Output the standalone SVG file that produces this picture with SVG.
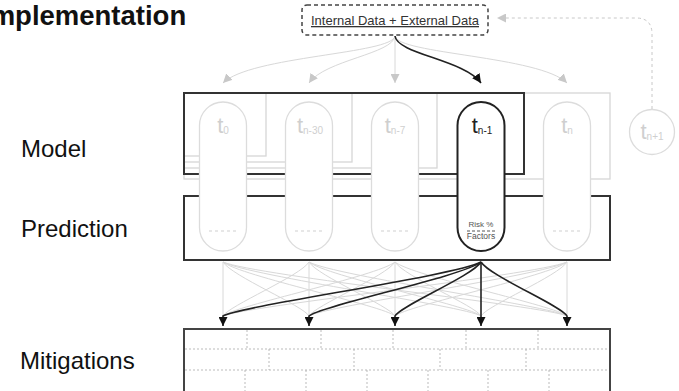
<svg xmlns="http://www.w3.org/2000/svg" width="679" height="391" viewBox="0 0 679 391">
<style>
.lbl{font-family:"Liberation Sans",Arial,sans-serif;font-size:24px;fill:#111}
.title{font-family:"Liberation Sans",Arial,sans-serif;font-size:27.5px;font-weight:bold;fill:#111}
.gbox{fill:none;stroke:#d6d6d6;stroke-width:1.3}
.bbox{fill:none;stroke:#333;stroke-width:2}
.pill{fill:#fff;stroke:#dcdcdc;stroke-width:1.3}
.pillA{fill:#fff;stroke:#222;stroke-width:2}
.tg{font-family:"Liberation Sans",Arial,sans-serif;font-size:22px;fill:#cfcfcf}
.tb{font-family:"Liberation Sans",Arial,sans-serif;font-size:22px;fill:#222}
.sub{font-size:10px}
.sep{stroke:#cfcfcf;stroke-width:1;stroke-dasharray:3 3}
.gc{fill:none;stroke:#d8d8d8;stroke-width:1}
.bc{fill:none;stroke:#222;stroke-width:1.6}
.brick{stroke:#aaa;stroke-width:0.8;stroke-dasharray:2 2;fill:none}
</style>
<defs>
<marker id="ahG" viewBox="0 0 10 10" refX="10" refY="5" markerWidth="9" markerHeight="9" markerUnits="userSpaceOnUse" orient="auto"><path d="M0,0 L10,5 L0,10 z" fill="#c8c8c8"/></marker>
<marker id="ahB" viewBox="0 0 10 10" refX="10" refY="5" markerWidth="9" markerHeight="9" markerUnits="userSpaceOnUse" orient="auto"><path d="M0,0 L10,5 L0,10 z" fill="#111"/></marker>
</defs>

<text class="title" x="-17" y="25">Implementation</text>
<text class="lbl" x="21" y="157">Model</text>
<text class="lbl" x="21" y="237">Prediction</text>
<text class="lbl" x="20" y="369">Mitigations</text>

<g id="source">
<rect x="302" y="5" width="186" height="30" rx="5" fill="#fff" stroke="#444" stroke-width="1.5" stroke-dasharray="4 3"/>
<text x="395" y="25" text-anchor="middle" font-family="'Liberation Sans',Arial,sans-serif" font-size="13" fill="#333" text-decoration="underline">Internal Data + External Data</text>
</g>

<g id="model-boxes">
<rect class="gbox" x="184" y="93" width="82" height="63"/>
<rect class="gbox" x="184" y="93" width="168" height="69"/>
<rect class="gbox" x="184" y="93" width="253" height="75"/>
<rect class="gbox" x="184" y="93" width="426" height="86"/>
<rect class="bbox" x="184" y="93" width="340" height="81"/>
</g>

<g id="prediction-box">
<rect class="bbox" x="184" y="196" width="426" height="64"/>
</g>

<g id="pill-t0">
<rect class="pill" x="199.5" y="102" width="47" height="149" rx="23.5"/>
<text class="tg" x="223" y="133" text-anchor="middle">t<tspan class="sub" dy="1">0</tspan></text>
<line class="sep" x1="209" y1="231" x2="237" y2="231"/>
</g>
<g id="pill-tn30">
<rect class="pill" x="285.5" y="102" width="47" height="149" rx="23.5"/>
<text class="tg" x="310" y="133" text-anchor="middle">t<tspan class="sub" dy="1">n-30</tspan></text>
<line class="sep" x1="295" y1="231" x2="323" y2="231"/>
</g>
<g id="pill-tn7">
<rect class="pill" x="371.5" y="102" width="47" height="149" rx="23.5"/>
<text class="tg" x="395" y="133" text-anchor="middle">t<tspan class="sub" dy="1">n-7</tspan></text>
<line class="sep" x1="381" y1="231" x2="409" y2="231"/>
</g>
<g id="pill-tn1">
<rect class="pillA" x="457.5" y="102" width="47" height="149" rx="23.5"/>
<text class="tb" x="482" y="133" text-anchor="middle">t<tspan class="sub" dy="1">n-1</tspan></text>
<text x="481" y="227" text-anchor="middle" font-family="'Liberation Sans',Arial,sans-serif" font-size="8" fill="#555">Risk %</text>
<line x1="467" y1="231" x2="496" y2="231" stroke="#555" stroke-width="1" stroke-dasharray="3 2"/>
<text x="481" y="239" text-anchor="middle" font-family="'Liberation Sans',Arial,sans-serif" font-size="8.5" fill="#555">Factors</text>
</g>
<g id="pill-tn">
<rect class="pill" x="543.5" y="102" width="47" height="149" rx="23.5"/>
<text class="tg" x="567" y="133" text-anchor="middle">t<tspan class="sub" dy="1">n</tspan></text>
<line class="sep" x1="553" y1="231" x2="581" y2="231"/>
</g>
<g id="node-tn1">
<circle cx="652" cy="132" r="22.5" fill="#fff" stroke="#dcdcdc" stroke-width="1.3"/>
<text class="tg" x="652" y="139" text-anchor="middle">t<tspan class="sub" dy="1">n+1</tspan></text>
</g>

<g id="mitigations">
<rect x="184" y="329" width="426" height="80" fill="none" stroke="#444" stroke-width="2"/>
<line class="brick" x1="185" y1="349" x2="609" y2="349"/>
<line class="brick" x1="185" y1="370" x2="609" y2="370"/>
<line class="brick" x1="247" y1="330" x2="247" y2="349"/>
<line class="brick" x1="321" y1="330" x2="321" y2="349"/>
<line class="brick" x1="393" y1="330" x2="393" y2="349"/>
<line class="brick" x1="466" y1="330" x2="466" y2="349"/>
<line class="brick" x1="538" y1="330" x2="538" y2="349"/>
<line class="brick" x1="269" y1="349" x2="269" y2="370"/>
<line class="brick" x1="354" y1="349" x2="354" y2="370"/>
<line class="brick" x1="440" y1="349" x2="440" y2="370"/>
<line class="brick" x1="526" y1="349" x2="526" y2="370"/>
<line class="brick" x1="245" y1="370" x2="245" y2="391"/>
<line class="brick" x1="306" y1="370" x2="306" y2="391"/>
<line class="brick" x1="367" y1="370" x2="367" y2="391"/>
<line class="brick" x1="428" y1="370" x2="428" y2="391"/>
<line class="brick" x1="488" y1="370" x2="488" y2="391"/>
<line class="brick" x1="549" y1="370" x2="549" y2="391"/>
</g>

<g id="connectors">
<path d="M652,109 L652,34 Q652,18 636,18 L497,18" fill="none" stroke="#c8c8c8" stroke-width="1" stroke-dasharray="3 3" marker-end="url(#ahG)"/>
<path class="gc" d="M395,36 C393,54 250,56 223,83" marker-end="url(#ahG)"/>
<path class="gc" d="M395,36 C393,54 325,60 309,83" marker-end="url(#ahG)"/>
<path class="gc" d="M395,36 L395,83" marker-end="url(#ahG)"/>
<path class="gc" d="M395,36 C397,54 540,56 567,83" marker-end="url(#ahG)"/>
<path class="bc" d="M395,36 C397,54 465,60 481,83" marker-end="url(#ahB)"/>

<path class="gc" d="M223,262 L223,324"/>
<path class="gc" d="M309,262 L309,324"/>
<path class="gc" d="M395,262 L395,324"/>
<path class="gc" d="M567,262 L567,324"/>
<path class="gc" d="M223,262 C231.6,276 303.8,306 309,316 L309,324"/>
<path class="gc" d="M223,262 C240.2,276 384.7,306 395,316 L395,324"/>
<path class="gc" d="M223,262 C248.8,276 465.5,306 481,316 L481,324"/>
<path class="gc" d="M223,262 C257.4,276 546.4,306 567,316 L567,324"/>
<path class="gc" d="M309,262 C300.4,276 228.2,306 223,316 L223,324"/>
<path class="gc" d="M309,262 C317.6,276 389.8,306 395,316 L395,324"/>
<path class="gc" d="M309,262 C326.2,276 470.7,306 481,316 L481,324"/>
<path class="gc" d="M309,262 C334.8,276 551.5,306 567,316 L567,324"/>
<path class="gc" d="M395,262 C377.8,276 233.3,306 223,316 L223,324"/>
<path class="gc" d="M395,262 C386.4,276 314.2,306 309,316 L309,324"/>
<path class="gc" d="M395,262 C403.6,276 475.8,306 481,316 L481,324"/>
<path class="gc" d="M395,262 C412.2,276 556.7,306 567,316 L567,324"/>
<path class="gc" d="M567,262 C532.6,276 243.6,306 223,316 L223,324"/>
<path class="gc" d="M567,262 C541.2,276 324.5,306 309,316 L309,324"/>
<path class="gc" d="M567,262 C549.8,276 405.3,306 395,316 L395,324"/>
<path class="gc" d="M567,262 C558.4,276 486.2,306 481,316 L481,324"/>

<path class="bc" d="M481,262 C455.2,276 238.5,306 223,316 L223,326" marker-end="url(#ahB)"/>
<path class="bc" d="M481,262 C463.8,276 319.3,306 309,316 L309,326" marker-end="url(#ahB)"/>
<path class="bc" d="M481,262 C472.4,276 400.2,306 395,316 L395,326" marker-end="url(#ahB)"/>
<path class="bc" d="M481,262 L481,326" marker-end="url(#ahB)"/>
<path class="bc" d="M481,262 C489.6,276 561.8,306 567,316 L567,326" marker-end="url(#ahB)"/>
</g>
</svg>
